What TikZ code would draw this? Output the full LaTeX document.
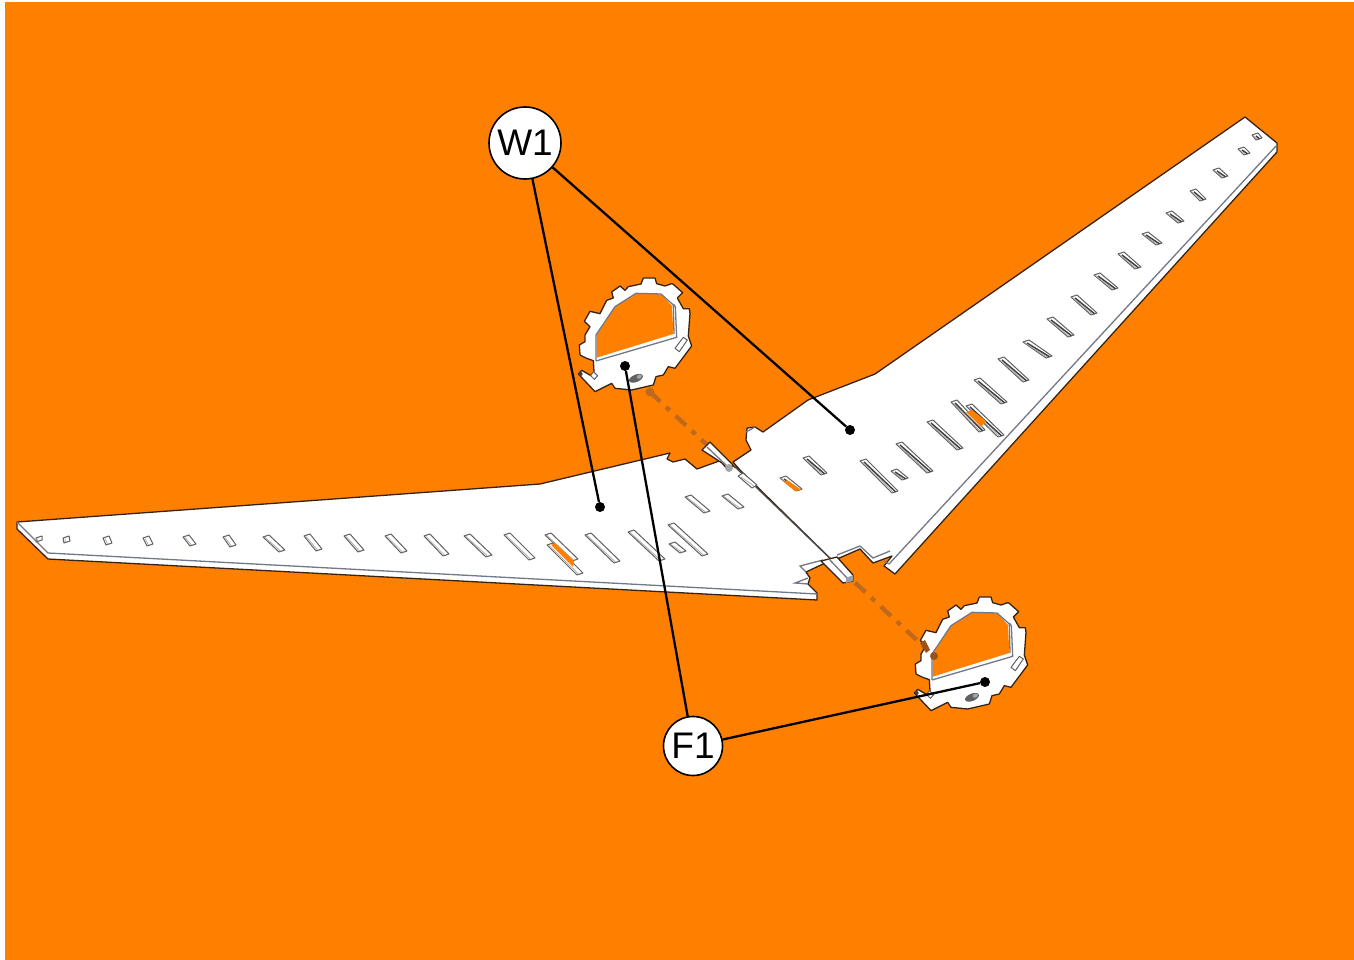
\documentclass[tikz,border=0pt]{standalone}
\usepackage{fontspec}
\setmainfont{Liberation Sans}
\definecolor{bgorange}{RGB}{255,128,0}
\definecolor{axisbrown}{RGB}{190,105,28}
\definecolor{edgedark}{RGB}{55,35,20}
\definecolor{wallgray}{RGB}{115,120,135}
\tikzset{
  panel/.style={fill=white,draw=edgedark,line width=1.3pt,line join=round},
  edgeline/.style={draw=wallgray,line width=1.3pt},
  slotline/.style={fill=white,draw=black!62,line width=1pt,line join=round},
  slotinner/.style={draw=black!35,line width=0.7pt},
  slotshade/.style={draw=black!75,line width=1.5pt},
  leader/.style={draw=black,line width=2.3pt},
  callout/.style={circle,fill=white,draw=black,line width=1.6pt,font=\fontsize{37}{37}\selectfont,inner sep=0pt},
  leaderdot/.style={circle,fill=black,draw=none,minimum size=10pt,inner sep=0pt},
  axisline/.style={draw=axisbrown,line width=4.4pt,dash pattern=on 14pt off 8pt on 5pt off 8pt}
}
% slot from bounding corner (x1,y1) to (x2,y2)
\newcommand\wslot[4]{%
  \draw[slotline] (#1,#2+2) -- (#1+6,#2) -- (#3,#4-2) -- (#3-6,#4) -- cycle;
  \draw[slotinner] (#1+2,#2+2.5) -- (#3-4.5,#4-1);
}
\newcommand\rslot[4]{%
  \draw[slotline] (#1,#2+2) -- (#1+6,#2) -- (#3,#4-2) -- (#3-6,#4) -- cycle;
  \draw[slotshade] (#1+4,#2+3) -- (#3-2.5,#4-1.2);
  \draw[slotinner] (#1+1.5,#2+2.5) -- (#3-5,#4-0.8);
}
\newcommand\ringbody{%
  \draw[panel] (55,342) -- (65,331) -- (93,347) -- (102,335) -- (100,302) -- (80,295) -- (60,285) -- (58,255)
    -- (75,245) -- (75,225) -- (90,200) -- (73,184) -- (90,154) -- (120,161) -- (140,121) -- (160,114) -- (155,96)
    -- (180,78) -- (195,91) -- (205,80) -- (243,72) -- (250,54) -- (285,54) -- (290,71) -- (315,78) -- (335,71)
    -- (340,73) -- (368,98) -- (352,114) -- (370,146) -- (388,146) -- (390,161) -- (385,228) -- (395,258)
    -- (345,325) -- (325,320) -- (310,345) -- (288,350) -- (280,375) -- (215,390) -- (165,385) -- (155,370)
    -- (145,375) -- (105,395) -- cycle;
  \fill[bgorange] (110,293) -- (340,222) -- (336,138) -- (303,103) -- (228,100) -- (165,140) -- (110,225) -- cycle;
  \draw[edgeline] (108,303) -- (350,232) -- (346,140) -- (340,132);
  \draw[edgeline] (108,303) -- (108,225) -- (165,140) -- (228,100) -- (303,102) -- (340,135) -- (342,222);
  \draw[slotline] (345,265) -- (370,232) -- (382,240) -- (358,275) -- cycle;
  \draw[slotline] (100,335) -- (113,347) -- (103,358) -- (92,347) -- cycle;
  \fill[black!62,rotate around={22:(228,355)}] (228,355) ellipse (22 and 11);
  \fill[black!35,rotate around={22:(238,350)}] (238,350) ellipse (8 and 6);
  \fill[black!75] (62,342) circle (6);
}
\begin{document}
\begin{tikzpicture}[x=1pt,y=-1pt]
\useasboundingbox (0,0) rectangle (1354,960);
\fill[white] (0,0) rectangle (1354,960);
\fill[bgorange] (5,2) rectangle (1354,960);

% assembly axis
\coordinate (axisA) at (650,392);
\coordinate (axisB) at (934,656);
\draw[axisline] (axisA) -- (axisB);
\fill[axisbrown] (axisA) circle (4.5);

% left wing
\draw[panel] (17,522) -- (540,484) -- (670,453) -- (667,459) -- (673,462) -- (685,459) -- (697,469) -- (722,460)
  -- (740,470) -- (838,566) -- (823,564) -- (806,572) -- (810,578) -- (808,584)
  -- (817,593) -- (817,600) -- (48,559) -- (17,529) -- cycle;
\draw[edgeline] (17,522) -- (48,553) -- (817,594);
\draw[edgeline] (806,572) -- (800,566) -- (823,560) (808,578) -- (795,583) -- (808,584);

% right wing
\draw[panel] (733,462) -- (751,450) -- (746,440) -- (747,428) -- (755,427) -- (763,432) -- (808,400) -- (875,374)
  -- (1245,117) -- (1277,143) -- (1277,152) -- (895,574) -- (884,566) -- (892,556) -- (873,563) -- (860,549) -- (837,559)
  -- (853,577) -- (838,566) -- (740,470) -- cycle;
\draw[edgeline] (1276,146) -- (889,564);
\draw[edgeline] (837,555) -- (860,546) -- (873,558) -- (890,551) (884,561) -- (889,564);
\draw[edgeline] (746,432) -- (755,427);

% joint line and spar
\draw[draw=black!70,line width=1.2pt] (733,465) -- (838,566);
\draw[panel] (702,450) -- (710,442) -- (733,465) -- (728,470) -- (722,463) -- cycle;
\draw[edgeline] (707,447) -- (727,466);
\fill[black!35] (729,468) circle (4);
\draw[slotline] (738,476) -- (743,473) -- (757,485) -- (752,488) -- cycle;
\draw[slotinner] (741,477) -- (754,486);
\draw[panel] (821,561) -- (837,557) -- (853,575) -- (853,581) -- (843,583) -- cycle;
\draw[edgeline] (829,559) -- (848,579);
\fill[wallgray!70] (846,578) -- (853,575) -- (853,581) -- (846,583) -- cycle;

% left wing slots
\wslot{36}{536}{42}{542}
\wslot{63}{536}{70}{543}
\wslot{103}{536}{112}{545}
\wslot{143}{536}{153}{546}
\wslot{183}{535}{196}{546}
\wslot{223}{535}{236}{547}
\wslot{263}{535}{285}{552}
\wslot{304}{534}{322}{551}
\wslot{344}{534}{364}{552}
\wslot{385}{534}{407}{553}
\wslot{424}{534}{449}{556}
\wslot{464}{534}{492}{557}
\wslot{504}{533}{535}{560}
\wslot{547}{543}{583}{575}
\wslot{545}{533}{578}{561}
\fill[bgorange] (551,545) -- (555,543) -- (574,561) -- (573,567) -- cycle;
\wslot{585}{533}{620}{563}
\wslot{628}{530}{665}{561}
\wslot{669}{542}{686}{553}
\wslot{668}{523}{708}{556}
\wslot{685}{495}{710}{513}
\wslot{722}{494}{744}{509}

% right wing slots
\rslot{780}{476}{802}{491}
\fill[bgorange] (787,480) -- (801,490) -- (795,491) -- (784,482) -- cycle;
\rslot{803}{456}{827}{475}
\rslot{860}{459}{898}{493}
\rslot{891}{469}{908}{480}
\rslot{896}{442}{933}{473}
\rslot{927}{420}{963}{450}
\rslot{951}{400}{985}{432}
\rslot{966}{404}{1004}{437}
\fill[bgorange] (966,412) -- (972,410) -- (986,421) -- (981,427) -- cycle;
\rslot{974}{378}{1007}{404}
\rslot{998}{357}{1029}{382}
\rslot{1023}{340}{1052}{358}
\rslot{1047}{317}{1074}{337}
\rslot{1071}{295}{1097}{315}
\rslot{1094}{273}{1118}{290}
\rslot{1118}{252}{1141}{269}
\rslot{1142}{232}{1162}{245}
\rslot{1166}{211}{1184}{223}
\rslot{1190}{189}{1206}{201}
\rslot{1213}{168}{1228}{178}
\rslot{1238}{147}{1250}{155}
\rslot{1252}{133}{1262}{140}

% fuselage formers
\begin{scope}[shift={(560,260)},x=0.3333pt,y=-0.3333pt]
  \ringbody
\end{scope}
\begin{scope}[shift={(896,579)},x=0.3333pt,y=-0.3333pt]
  \ringbody
\end{scope}
\fill[axisbrown!80!black] (axisB) circle (4);
\fill[axisbrown!80!black] (920,643) -- (925,640) -- (930,650) -- (926,653) -- cycle;

% callouts
\node[callout,minimum size=72pt] (W1) at (525,143) {W1};
\node[callout,minimum size=59pt] (F1) at (693,746) {F1};
\node[leaderdot] (dW1a) at (600,507) {};
\node[leaderdot] (dW1b) at (850,430) {};
\node[leaderdot] (dF1a) at (625,366) {};
\node[leaderdot] (dF1b) at (985,682) {};
\draw[leader] (W1) -- (dW1a);
\draw[leader] (W1) -- (dW1b);
\draw[leader] (F1) -- (dF1a);
\draw[leader] (F1) -- (dF1b);
\end{tikzpicture}
\end{document}
